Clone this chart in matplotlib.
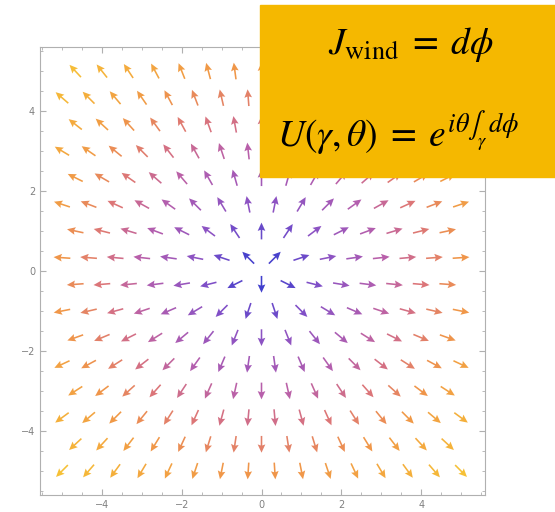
import numpy as np
import matplotlib
matplotlib.use('Agg')
import matplotlib.pyplot as plt
from matplotlib.colors import LinearSegmentedColormap
from matplotlib.patches import Rectangle
from matplotlib.ticker import MultipleLocator

plt.rcParams['mathtext.fontset'] = 'stix'

# staggered sample rows (Mathematica VectorPlot style)
row_y = [-5.0, -4.333, -3.667, -3.0, -2.333, -1.667, -1.0, -0.333,
         0.333, 1.0, 1.667, 2.333, 3.0, 3.667, 4.333, 5.0]
full_x = [-5.0, -4.333, -3.667, -3.0, -2.333, -1.667, -1.0, -0.333,
          0.333, 1.0, 1.667, 2.333, 3.0, 3.667, 4.333, 5.0]
offset_x = [-4.667, -4.0, -3.333, -2.667, -2.0, -1.333, -0.667, 0.0,
            0.667, 1.333, 2.0, 2.667, 3.333, 4.0, 4.667]
tick_vals = [-4, -2, 0, 2, 4]

# colours, by distance from the origin
color_r = [0.3, 1.5, 3.0, 4.0, 5.0, 6.0, 7.1]
color_hex = ['#2a2ac8', '#7a3ec0', '#b04ea2', '#d8666a', '#ee8a36', '#f3a228', '#f5bb20']
rmin, rmax = color_r[0], color_r[-1]
cmap = LinearSegmentedColormap.from_list(
    'field', [((c - rmin) / (rmax - rmin), h) for c, h in zip(color_r, color_hex)])

xs, ys = [], []
for k, y in enumerate(row_y):
    row = full_x if k % 2 == 0 else offset_x
    for x in row:
        xs.append(x)
        ys.append(y)
xs = np.array(xs)
ys = np.array(ys)
r = np.hypot(xs, ys)
L = 0.42  # arrow length in data units
u = L * xs / r
v = L * ys / r

fig = plt.figure(figsize=(5.55, 5.12), dpi=100)
ax = fig.add_axes([40 / 555, 17 / 512, 445 / 555, 448 / 512])

ax.quiver(xs, ys, u, v, r, cmap=cmap, clim=(rmin, rmax), pivot='middle',
          units='xy', scale=1, angles='xy', width=0.04,
          headwidth=4.8, headlength=5.2, headaxislength=4.5, alpha=0.9)

ax.set_xlim(-5.55, 5.6)
ax.set_ylim(-5.6, 5.6)
ax.set_xticks(tick_vals)
ax.set_yticks(tick_vals)
ax.xaxis.set_minor_locator(MultipleLocator(0.5))
ax.yaxis.set_minor_locator(MultipleLocator(0.5))
for s in ax.spines.values():
    s.set_color('#b0b0b0')
    s.set_linewidth(0.8)
ax.tick_params(which='both', direction='in', top=True, right=True,
               color='#b0b0b0', labelcolor='#808080', labelsize=7)
ax.tick_params(which='major', length=4)
ax.tick_params(which='minor', length=2)

# formula box in the top right corner
fig.patches.append(Rectangle((260 / 555, 335 / 512), 295 / 555, 172 / 512,
                             transform=fig.transFigure, color='#f5b800',
                             zorder=5))
fig.text(411 / 555, 1 - 45 / 512, r'$J_{\mathrm{wind}}\;=\;d\phi$',
         fontsize=27, ha='center', va='center', zorder=6)
fig.text(398 / 555, 1 - 132 / 512,
         r'$U(\gamma,\theta)\;=\;e^{i\theta\int_{\gamma}\, d\phi}$',
         fontsize=27, ha='center', va='center', zorder=6)

plt.savefig('out.png', dpi=100)
